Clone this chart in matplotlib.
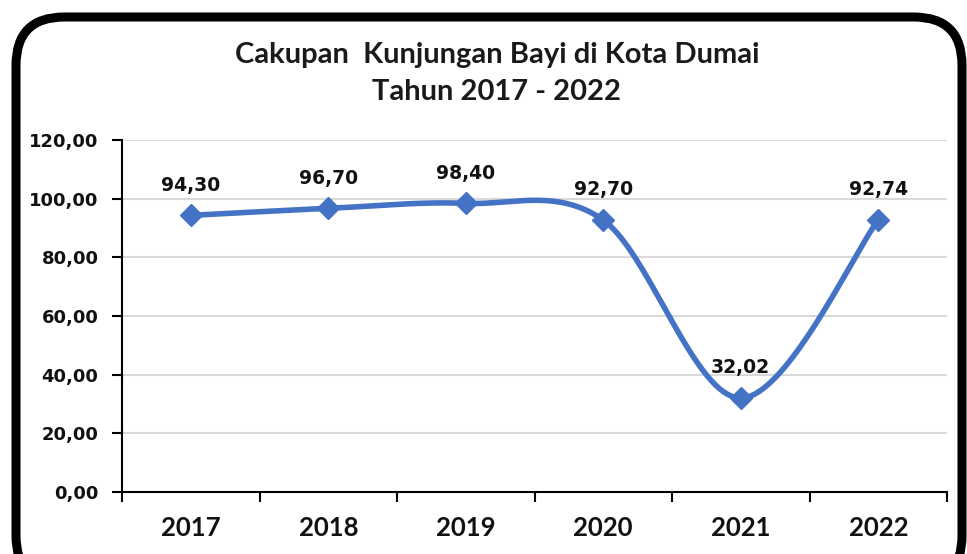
import numpy as np
import matplotlib
matplotlib.use("Agg")
import matplotlib.pyplot as plt
from matplotlib.patches import FancyBboxPatch

years = ["2017", "2018", "2019", "2020", "2021", "2022"]
values = [94.30, 96.70, 98.40, 92.70, 32.02, 92.74]
labels = ["94,30", "96,70", "98,40", "92,70", "32,02", "92,74"]
yticks = [0, 20, 40, 60, 80, 100, 120]
ytick_labels = ["0,00", "20,00", "40,00", "60,00", "80,00", "100,00", "120,00"]
title_lines = ["Cakupan  Kunjungan Bayi di Kota Dumai", "Tahun 2017 - 2022"]

plt.rcParams['font.family'] = ['Lato', 'DejaVu Sans']

fig = plt.figure(figsize=(9.67, 5.54), dpi=100)
fig.patch.set_facecolor("white")

# rounded black frame
frame = FancyBboxPatch((16 / 967, -30 / 554), (962 - 16) / 967, (537 + 30) / 554,
                       boxstyle="round,pad=0,rounding_size=0.05",
                       transform=fig.transFigure, facecolor="none",
                       edgecolor="black", linewidth=6.5, zorder=-5,
                       mutation_aspect=967 / 554)
fig.patches.append(frame)

ax = fig.add_axes([122 / 967, 1 - 492 / 554, (947 - 122) / 967, (492 - 140) / 554])
ax.set_facecolor("none")
ax.set_zorder(2)

x = np.arange(len(values))
y = np.array(values)

# Catmull-Rom style smoothing (as Excel's smoothed line)
P = np.column_stack([x, y]).astype(float)
ext = np.vstack([P[0], P, P[-1]])
xs, ys = [], []
t = np.linspace(0, 1, 40)
for i in range(len(P) - 1):
    p0, p1, p2, p3 = ext[i], ext[i + 1], ext[i + 2], ext[i + 3]
    c1 = p1 + (p2 - p0) / 6
    c2 = p2 - (p3 - p1) / 6
    b = ((1 - t) ** 3)[:, None] * p1 + (3 * (1 - t) ** 2 * t)[:, None] * c1 + \
        (3 * (1 - t) * t ** 2)[:, None] * c2 + (t ** 3)[:, None] * p2
    xs.extend(b[:, 0]); ys.extend(b[:, 1])

ax.plot(xs, ys, color="#4472C4", linewidth=4, solid_capstyle="round", zorder=3, clip_on=False)
ax.plot(x, y, linestyle="none", marker="D", markersize=11.5, color="#4472C4", zorder=4, clip_on=False)

for xi, yi, lab in zip(x, y, labels):
    ax.annotate(lab, (xi, yi), xytext=(0, 15), textcoords="offset points",
                ha="center", va="bottom", fontsize=13.5, fontweight="bold",
                family="DejaVu Sans", color="#111111")

ax.set_xlim(-0.5, len(values) - 0.5)
ax.set_ylim(0, 120)
ax.set_yticks(yticks)
ax.set_yticklabels(ytick_labels, fontsize=13, fontweight="bold", family="DejaVu Sans",
                   color="#111111")
ax.set_xticks(x)
ax.set_xticklabels(years, fontsize=18.5, fontweight="bold", color="#111111")
ax.set_xticks(np.arange(-0.5, len(values), 1.0), minor=True)
ax.tick_params(axis="x", which="major", length=0, pad=17)
ax.tick_params(axis="x", which="minor", length=7, width=1.5, direction="out", color="black")
ax.tick_params(axis="y", length=7, width=1.5, direction="out", pad=10)

ax.grid(axis="y", color="#D9D9D9", linewidth=1.5, zorder=0)
ax.set_axisbelow(True)
for s in ["top", "right"]:
    ax.spines[s].set_visible(False)
ax.spines["left"].set_linewidth(1.5)
ax.spines["bottom"].set_linewidth(1.5)

fig.text(497 / 967, 1 - 55 / 554, title_lines[0], ha="center", va="center",
         fontsize=21, fontweight="bold", color="#1a1a1a")
fig.text(497 / 967, 1 - 92 / 554, title_lines[1], ha="center", va="center",
         fontsize=21, fontweight="bold", color="#1a1a1a")

fig.savefig("out.png", dpi=100, facecolor="white")
